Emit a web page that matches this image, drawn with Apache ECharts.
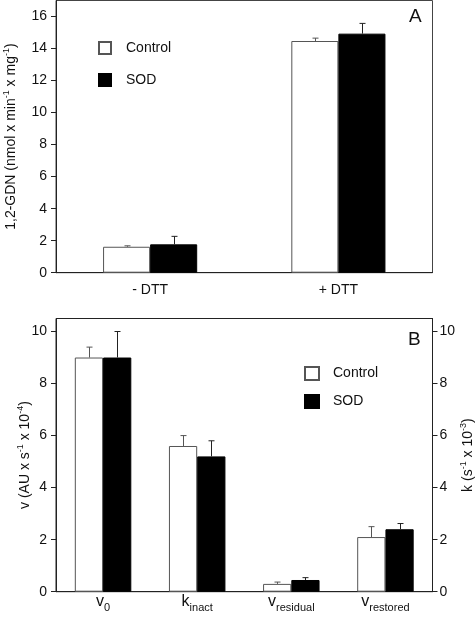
<!DOCTYPE html>
<html>
<head>
<meta charset="utf-8">
<script src="https://cdn.jsdelivr.net/npm/echarts@6/dist/echarts.min.js"></script>
<style>html,body{margin:0;padding:0;background:#fff}#c{width:475px;height:618px}</style>
</head>
<body>
<div id="c"></div>
<script>
// ---- Data ----
const categoriesA = ['- DTT', '+ DTT'];
const controlA = [1.62, 14.47];
const controlErrA = [0.06, 0.18];
const sodA = [1.77, 14.93];
const sodErrA = [0.5, 0.64];
const yTicksA = [0, 2, 4, 6, 8, 10, 12, 14, 16];

const categoriesBBase = ['v', 'k', 'v', 'v'];
const categoriesBSub = ['0', 'inact', 'residual', 'restored'];
const controlB = [9.0, 5.6, 0.3, 2.1];
const controlErrB = [0.4, 0.4, 0.07, 0.4];
const sodB = [9.0, 5.2, 0.45, 2.4];
const sodErrB = [1.0, 0.6, 0.09, 0.22];
const yTicksB = [0, 2, 4, 6, 8, 10];

const FONT = '"Liberation Sans", Arial, sans-serif';
const AX = '#222';

function errSeries(xi, yi, vals, errs, frac, color) {
  return {
    type: 'custom', xAxisIndex: xi, yAxisIndex: yi, z: 3, silent: true,
    renderItem: function (params, api) {
      const cat = api.value(0), v = api.value(1), e = api.value(2);
      const b = api.coord([cat, v]);
      const t = api.coord([cat, v + e]);
      const band = api.size([1, 0])[0];
      const x = Math.round(b[0] + band * frac) + 0.5;
      return { type: 'group', children: [
        { type: 'line', shape: { x1: x, y1: b[1], x2: x, y2: t[1] }, style: { stroke: color, lineWidth: 1 } },
        { type: 'line', shape: { x1: x - 3, y1: t[1], x2: x + 3, y2: t[1] }, style: { stroke: color, lineWidth: 1 } }
      ]};
    },
    data: vals.map((v, i) => [i, v, errs[i]]),
    encode: { x: 0, y: 1 }
  };
}

const supRich = {
  n: { fontSize: 14, fontFamily: FONT, color: '#111', lineHeight: 18 },
  s: { fontSize: 9, fontFamily: FONT, color: '#111', verticalAlign: 'top', lineHeight: 18, padding: [0, 0, 7, 0] }
};
const nameStyle = { fontSize: 14, fontFamily: FONT, color: '#111', rich: supRich };

const ctrlStyle = { color: '#fff', borderColor: '#555', borderWidth: 1 };
const sodStyle = { color: '#000', borderColor: '#000', borderWidth: 1 };

const chart = echarts.init(document.getElementById('c'), null, { renderer: 'canvas' });
chart.setOption({
  animation: false,
  textStyle: { fontFamily: FONT },
  grid: [
    { left: 56, top: 0.5, width: 376.5, height: 272.2, show: true, borderColor: '#444', borderWidth: 1,
      backgroundColor: 'transparent', outerBoundsMode: 'none', containLabel: false },
    { left: 56, top: 318.5, width: 376.5, height: 273.2, show: true, borderColor: '#222', borderWidth: 1,
      backgroundColor: 'transparent', outerBoundsMode: 'none', containLabel: false }
  ],
  legend: [
    { data: ['Control', 'SOD'], orient: 'vertical', left: 93, top: 36, itemWidth: 12, itemHeight: 12, itemGap: 18, icon: 'rect',
      textStyle: { fontSize: 14, color: '#111', fontFamily: FONT, padding: [0, 0, 0, 10] }, selectedMode: false },
    { data: ['Control ', 'SOD '], orient: 'vertical', left: 299, top: 361, itemWidth: 14, itemHeight: 13, itemGap: 13, icon: 'rect',
      textStyle: { fontSize: 14, color: '#111', fontFamily: FONT, padding: [0, 0, 0, 9] }, selectedMode: false }
  ],
  xAxis: [
    { type: 'category', gridIndex: 0, data: categoriesA,
      axisLine: { lineStyle: { color: AX } }, axisTick: { length: 5, lineStyle: { color: '#666' } },
      axisLabel: { fontSize: 14, color: '#111', margin: 10 } },
    { type: 'category', gridIndex: 1, data: categoriesBBase.map((b, i) => b + '|' + categoriesBSub[i]),
      axisLine: { lineStyle: { color: AX } }, axisTick: { length: 4, lineStyle: { color: '#666' } },
      axisLabel: { margin: 2, interval: 0,
        formatter: function (v) { const p = v.split('|'); return '{b|' + p[0] + '}{u|' + p[1] + '}'; },
        rich: {
          b: { fontSize: 16, color: '#111', fontFamily: FONT, lineHeight: 18, verticalAlign: 'top' },
          u: { fontSize: 11, color: '#111', fontFamily: FONT, lineHeight: 20, verticalAlign: 'bottom' }
        } } }
  ],
  yAxis: [
    { type: 'value', gridIndex: 0, min: 0, max: 17, interval: 2, splitLine: { show: false },
      axisLine: { show: true, lineStyle: { color: AX } },
      axisTick: { show: true, length: 5, lineStyle: { color: AX }, customValues: yTicksA },
      axisLabel: { fontSize: 14, color: '#111', margin: 9, customValues: yTicksA },
      name: '{n|1,2-GDN (nmol x min}{s|-1}{n| x mg}{s|-1}{n|)}', nameLocation: 'middle', nameRotate: 90, nameGap: 36,
      nameMoveOverlap: false, nameTextStyle: nameStyle },
    { type: 'value', gridIndex: 1, min: 0, max: 10.5, interval: 2, splitLine: { show: false },
      axisLine: { show: true, lineStyle: { color: AX } },
      axisTick: { show: true, length: 5, lineStyle: { color: AX }, customValues: yTicksB },
      axisLabel: { fontSize: 14, color: '#111', margin: 9, customValues: yTicksB },
      name: '{n|v (AU x s}{s|-1}{n| x 10}{s|-4}{n|)}', nameLocation: 'middle', nameRotate: 90, nameGap: 22,
      nameMoveOverlap: false, nameTextStyle: nameStyle },
    { type: 'value', gridIndex: 1, position: 'right', min: 0, max: 10.5, interval: 2, splitLine: { show: false },
      axisLine: { show: true, lineStyle: { color: AX } },
      axisTick: { show: true, length: 5, lineStyle: { color: AX }, customValues: yTicksB },
      axisLabel: { fontSize: 14, color: '#111', margin: 7, customValues: yTicksB },
      name: '{n|k (s}{s|-1}{n| x 10}{s|-3}{n|)}', nameLocation: 'middle', nameRotate: 90, nameGap: 27,
      nameMoveOverlap: false, nameTextStyle: nameStyle }
  ],
  series: [
    { type: 'bar', name: 'Control', xAxisIndex: 0, yAxisIndex: 0, data: controlA, itemStyle: ctrlStyle, barGap: '0%', barCategoryGap: '50%' },
    { type: 'bar', name: 'SOD', xAxisIndex: 0, yAxisIndex: 0, data: sodA, itemStyle: sodStyle, barGap: '0%', barCategoryGap: '50%' },
    errSeries(0, 0, controlA, controlErrA, -0.125, '#555'),
    errSeries(0, 0, sodA, sodErrA, 0.125, '#222'),
    { type: 'bar', name: 'Control ', xAxisIndex: 1, yAxisIndex: 1, data: controlB, itemStyle: ctrlStyle, barGap: '0%', barCategoryGap: '40%' },
    { type: 'bar', name: 'SOD ', xAxisIndex: 1, yAxisIndex: 1, data: sodB, itemStyle: sodStyle, barGap: '0%', barCategoryGap: '40%' },
    errSeries(1, 1, controlB, controlErrB, -0.15, '#555'),
    errSeries(1, 1, sodB, sodErrB, 0.15, '#222')
  ],
  graphic: [
    { type: 'text', left: 409, top: 7, style: { text: 'A', fontSize: 19, fontFamily: FONT, fill: '#111' } },
    { type: 'text', left: 408, top: 330, style: { text: 'B', fontSize: 19, fontFamily: FONT, fill: '#111' } }
  ]
});
</script>
</body>
</html>
